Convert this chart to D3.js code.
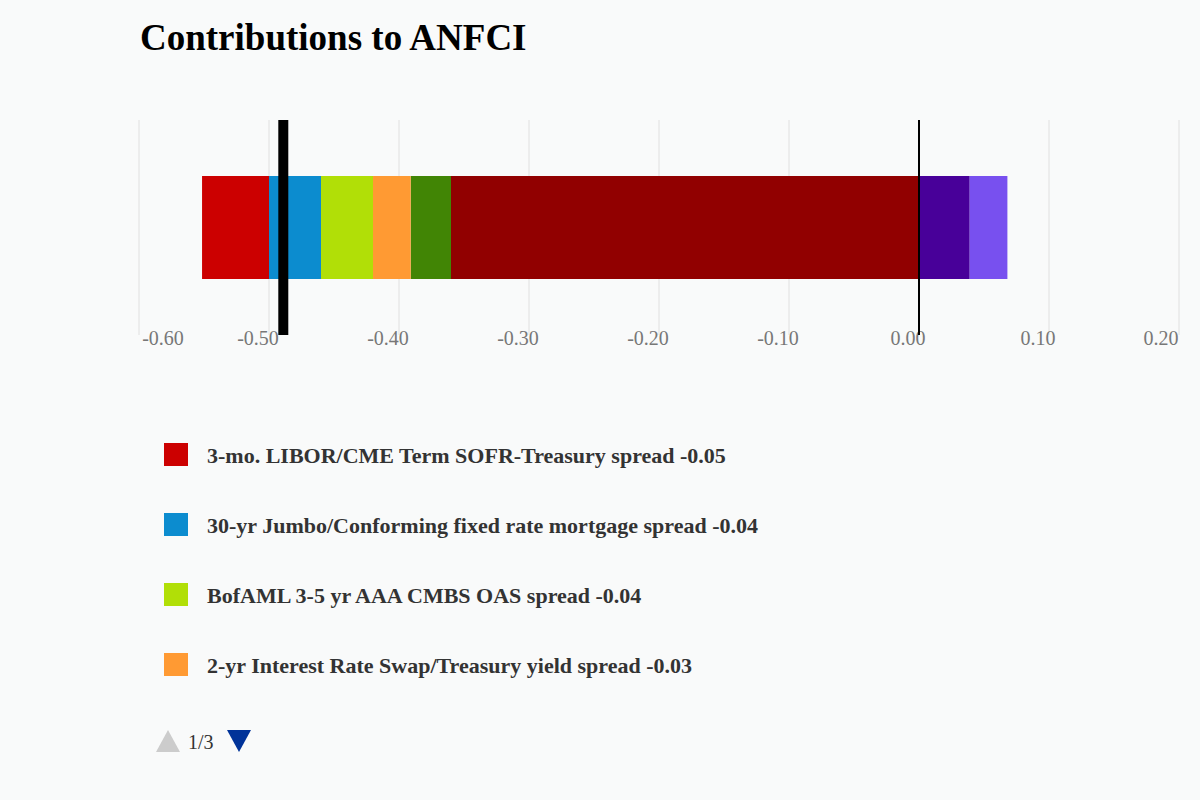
<!DOCTYPE html>
<html><head><meta charset="utf-8">
<script src="https://cdn.jsdelivr.net/npm/d3@7"></script>
<style>body{margin:0;background:#f9fafa;}svg{display:block;font-family:"Liberation Serif",serif;}</style>
</head><body><svg id="c" width="1200" height="800"></svg>
<script>
const names = ["Other contributions","Leverage contributions","2-yr Interest Rate Swap/Treasury yield spread","BofAML 3-5 yr AAA CMBS OAS spread","30-yr Jumbo/Conforming fixed rate mortgage spread","3-mo. LIBOR/CME Term SOFR-Treasury spread","Positive contributions A","Positive contributions B"];
const values = [-0.36,-0.031,-0.029,-0.04,-0.04,-0.0515,0.039,0.029];
const colors = ["#910000","#418505","#ff9a33","#b1df07","#0c8ccf","#cc0000","#480099","#7850ef"];
const total = -0.489;
const ticks = [-0.6,-0.5,-0.4,-0.3,-0.2,-0.1,0,0.1,0.2];
const legendIdx = [5,4,3,2];
const legendVals = ["-0.05","-0.04","-0.04","-0.03"];

(function(){
const svg = d3.select("#c");
svg.append("text").attr("x",140).attr("y",50).attr("font-size",37).attr("font-weight","bold").attr("fill","#000").text("Contributions to ANFCI");
const x = d3.scaleLinear().domain([-0.6,0.2]).range([139,1179]);
const pTop=120,pBot=335;
ticks.forEach(t=>{
  svg.append("line").attr("x1",x(t)).attr("x2",x(t)).attr("y1",pTop).attr("y2",pBot).attr("stroke","#e0e0e0");
  let cx = x(t)-11; cx = Math.max(163,Math.min(1161,cx));
  svg.append("text").attr("x",cx).attr("y",345).attr("text-anchor","middle").attr("font-size",20).attr("fill","#777").text(t.toFixed(2));
});
let neg=0,pos=0;
values.forEach((v,i)=>{
  let a,b;
  if(v<0){a=neg+v;b=neg;neg=a;} else {a=pos;b=pos+v;pos=b;}
  svg.append("rect").attr("x",x(a)).attr("width",x(b)-x(a)).attr("y",176).attr("height",103).attr("fill",colors[i]);
});
svg.append("line").attr("x1",x(0)).attr("x2",x(0)).attr("y1",pTop).attr("y2",pBot).attr("stroke","#000").attr("stroke-width",2);
svg.append("line").attr("x1",x(total)).attr("x2",x(total)).attr("y1",pTop).attr("y2",pBot).attr("stroke","#000").attr("stroke-width",10);
legendIdx.forEach((k,j)=>{
  const y=455+j*70;
  svg.append("rect").attr("x",164).attr("y",y-12).attr("width",24).attr("height",23).attr("fill",colors[k]);
  svg.append("text").attr("x",207).attr("y",y+8).attr("font-size",22).attr("font-weight","bold").attr("fill","#333").text(names[k]+" "+legendVals[j]);
});
svg.append("path").attr("d","M156,752 L168,730 L180,752 Z").attr("fill","#ccc");
svg.append("text").attr("x",188).attr("y",749).attr("font-size",20).attr("fill","#333").text("1/3");
svg.append("path").attr("d","M227,730 L251,730 L239,752 Z").attr("fill","#003399");
})();
</script></body></html>
